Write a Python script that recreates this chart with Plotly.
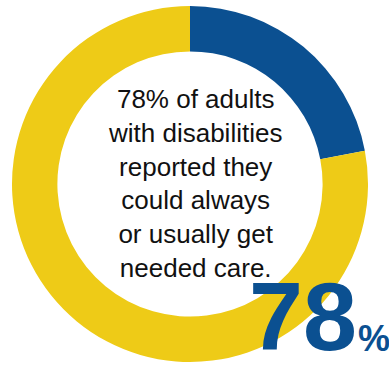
import plotly.graph_objects as go

labels = ["Other", "Could always or usually get needed care"]
values = [22, 78]
colors = ["#0B5091", "#EECB17"]
center_lines = ["78% of adults", "with disabilities", "reported they", "could always", "or usually get", "needed care."]
big_value = "78"
big_suffix = "%"

W, H = 389, 366
fig = go.Figure(go.Pie(
    labels=labels, values=values, hole=0.745, sort=False, direction="clockwise",
    rotation=0, marker=dict(colors=colors, line=dict(width=0)),
    textinfo="none", hoverinfo="skip", showlegend=False,
    domain=dict(x=[12 / W, 368 / W], y=[1 - 362 / H, 1 - 6 / H]),
))

fig.add_annotation(
    text="<br>".join(center_lines), x=195 / W, y=1 - 183 / H, xref="paper", yref="paper",
    showarrow=False, font=dict(family="Liberation Sans, Arial", size=26, color="#111111"),
    xanchor="center", yanchor="middle", align="center",
)
fig.add_annotation(
    text=f"<b>{big_value}</b>", x=359 / W, y=1 - 316 / H, xref="paper", yref="paper",
    showarrow=False, font=dict(family="Liberation Sans, Arial", size=97, color="#0B5091"),
    xanchor="right", yanchor="middle",
)
fig.add_annotation(
    text=f"<b>{big_suffix}</b>", x=392 / W, y=1 - 338 / H, xref="paper", yref="paper",
    showarrow=False, font=dict(family="Liberation Sans, Arial", size=36, color="#0B5091"),
    xanchor="right", yanchor="middle",
)

fig.update_layout(width=W, height=H, margin=dict(l=0, r=0, t=0, b=0),
                  paper_bgcolor="white", plot_bgcolor="white")
fig.write_html("out.html")
